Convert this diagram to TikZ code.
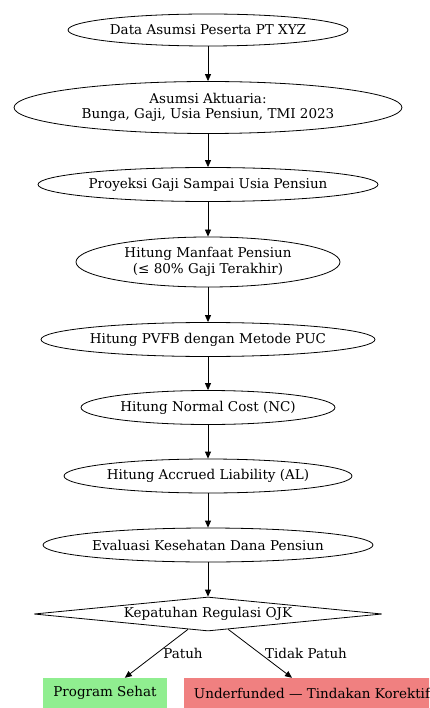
\documentclass[tikz,border=0pt]{standalone}
\usepackage{fontspec}
\setmainfont{DejaVu Serif}
\usetikzlibrary{shapes.geometric,arrows.meta}
\definecolor{boxgreen}{HTML}{90EE90}
\definecolor{boxred}{HTML}{F08080}
\begin{document}
\begin{tikzpicture}[x=1pt,y=-1pt,
  every node/.style={font=\fontsize{13.5}{15.5}\selectfont},
  ell/.style={draw, ellipse, inner sep=0pt, align=center, line width=0.8pt},
  dia/.style={draw, diamond, aspect=10, inner sep=0pt, line width=0.8pt},
  result/.style={rectangle, inner sep=0pt, minimum height=30pt},
  arr/.style={draw, line width=0.8pt, -{Triangle[length=7pt,width=6pt]}},
  lbl/.style={inner sep=1pt}]
\clip (0,0) rectangle (429,708);
\fill[white] (0,0) rectangle (429,708);
\node[ell, minimum width=280pt, minimum height=32pt] (n1) at (208,30) {Data Asumsi Peserta PT XYZ};
\node[ell, minimum width=388pt, minimum height=52pt] (n2) at (208,107.5) {Asumsi Aktuaria:\\Bunga, Gaji, Usia Pensiun, TMI 2023};
\node[ell, minimum width=340pt, minimum height=34pt] (n3) at (208,184.5) {Proyeksi Gaji Sampai Usia Pensiun};
\node[ell, minimum width=264pt, minimum height=50pt] (n4) at (208,262) {Hitung Manfaat Pensiun\\(≤ 80\% Gaji Terakhir)};
\node[ell, minimum width=334pt, minimum height=34pt] (n5) at (208,339.5) {Hitung PVFB dengan Metode PUC};
\node[ell, minimum width=254pt, minimum height=34pt] (n6) at (208,407.5) {Hitung Normal Cost (NC)};
\node[ell, minimum width=288pt, minimum height=34pt] (n7) at (208,476) {Hitung Accrued Liability (AL)};
\node[ell, minimum width=330pt, minimum height=34pt] (n8) at (208,545) {Evaluasi Kesehatan Dana Pensiun};
\node[dia, minimum width=348pt, minimum height=34pt] (d) at (208,614) {Kepatuhan Regulasi OJK};
\node[result, fill=boxgreen, minimum width=124pt] (ps) at (105,693) {Program Sehat};
\node[result, fill=boxred, minimum width=256pt] (uf) at (312,693) {Underfunded — Tindakan Korektif};
\draw[arr] (n1) -- (n2);
\draw[arr] (n2) -- (n3);
\draw[arr] (n3) -- (n4);
\draw[arr] (n4) -- (n5);
\draw[arr] (n5) -- (n6);
\draw[arr] (n6) -- (n7);
\draw[arr] (n7) -- (n8);
\draw[arr] (n8) -- (d);
\draw[arr] (d) -- (ps);
\draw[arr] (d) -- (uf);
\node[lbl] (lp) at (183,653) {Patuh};
\node[lbl] (lt) at (306,653) {Tidak Patuh};
\end{tikzpicture}
\end{document}
